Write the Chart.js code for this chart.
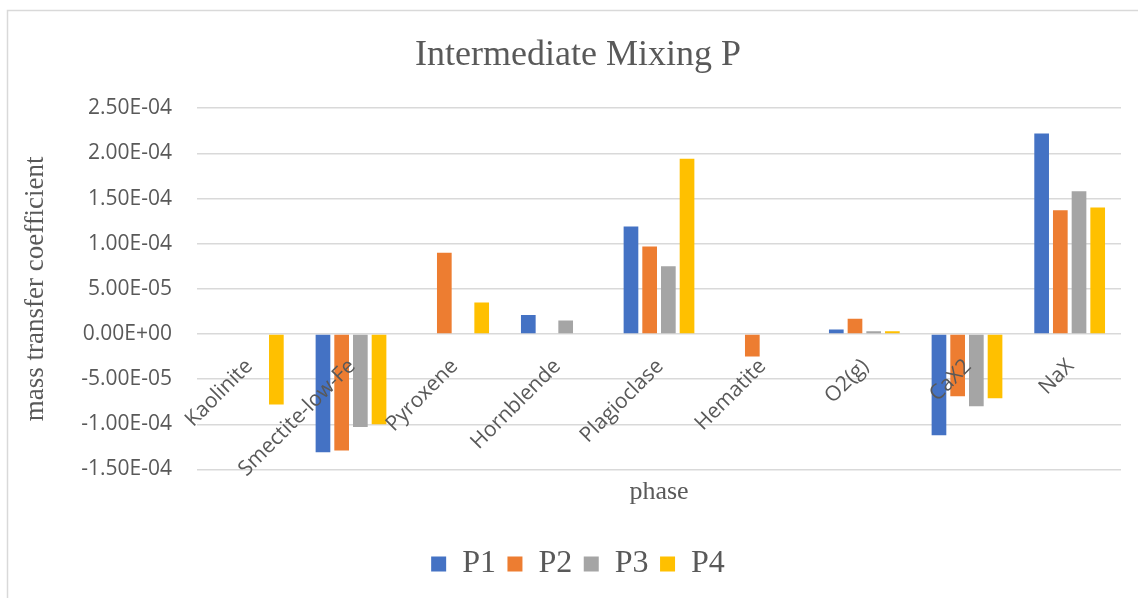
<!DOCTYPE html>
<html>
<head>
<meta charset="utf-8">
<script src="https://cdn.jsdelivr.net/npm/chart.js@4.4.1/dist/chart.umd.min.js"></script>
<style>
  html, body { margin: 0; padding: 0; overflow: hidden; background: #fff; }
  #wrap { width: 1149px; height: 610px; position: relative; }
</style>
</head>
<body>
<div id="wrap"><canvas id="chart"></canvas></div>
<script>
// phases on the x axis
const phases = ['Kaolinite', 'Smectite-low-Fe', 'Pyroxene', 'Hornblende', 'Plagioclase', 'Hematite', 'O2(g)', 'CaX2', 'NaX'];

// mass transfer coefficients per run (null = phase not present)
const p1 = [null, -1.31e-4, null, 2.1e-5, 1.19e-4, null, 5e-6, -1.12e-4, 2.22e-4];
const p2 = [null, -1.29e-4, 9.0e-5, null, 9.7e-5, -2.5e-5, 1.7e-5, -6.9e-5, 1.37e-4];
const p3 = [null, -1.03e-4, null, 1.5e-5, 7.5e-5, null, 3e-6, -8.0e-5, 1.58e-4];
const p4 = [-7.8e-5, -1.0e-4, 3.5e-5, null, 1.94e-4, null, 3e-6, -7.1e-5, 1.40e-4];

const yMin = -1.5e-4;
const yMax = 2.5e-4;
const yStep = 5e-5;

const GREY = '#595959';
const GRID = '#d9d9d9';
const SERIF = '"Liberation Serif", "Times New Roman", serif';
const SANS = '"Open Sans", sans-serif';

// Excel style scientific label, e.g. 1.50E-04
const sci = (v) => {
    if (Math.abs(v) < 1e-12) return '0.00E+00';
    const [m, e] = v.toExponential(2).split('e');
    const n = parseInt(e, 10);
    return `${m}E${n < 0 ? '-' : '+'}${String(Math.abs(n)).padStart(2, '0')}`;
};

// light frame round the whole chart
const frame = {
    id: 'frame',
    beforeDraw(chart) {
        const { ctx } = chart;
        ctx.save();
        ctx.strokeStyle = GRID;
        ctx.lineWidth = 1.5;
        ctx.strokeRect(7.5, 10.5, chart.width - 8, chart.height - 11);
        ctx.restore();
    }
};

// category names sit under the zero line, tilted 45 degrees
const phaseLabels = {
    id: 'phaseLabels',
    afterDatasetsDraw(chart) {
        const { ctx, scales: { x, y } } = chart;
        const y0 = y.getPixelForValue(0);
        ctx.save();
        ctx.font = `21px ${SANS}`;
        ctx.fillStyle = GREY;
        ctx.textAlign = 'right';
        ctx.textBaseline = 'middle';
        phases.forEach((name, i) => {
            ctx.save();
            ctx.translate(x.getPixelForValue(i) + 1, y0 + 29);
            ctx.rotate(-Math.PI / 4);
            ctx.fillText(name, 0, 0);
            ctx.restore();
        });
        ctx.restore();
    }
};

const series = [
    { label: 'P1', data: p1, color: '#4472C4' },
    { label: 'P2', data: p2, color: '#ED7D31' },
    { label: 'P3', data: p3, color: '#A5A5A5' },
    { label: 'P4', data: p4, color: '#FFC000' }
];

new Chart(document.getElementById('chart'), {
    type: 'bar',
    data: {
        labels: phases,
        datasets: series.map(s => ({
            label: s.label,
            data: s.data,
            backgroundColor: s.color,
            borderWidth: 0,
            categoryPercentage: 0.728,
            barPercentage: 0.786
        }))
    },
    options: {
        responsive: true,
        maintainAspectRatio: false,
        animation: false,
        layout: { padding: { left: 7, right: 0, top: 0, bottom: 20 } },
        plugins: {
            title: {
                display: true,
                text: 'Intermediate Mixing P',
                color: GREY,
                font: { family: SERIF, size: 36, weight: 'normal' },
                padding: { top: 34, bottom: 31 }
            },
            legend: {
                position: 'bottom',
                labels: {
                    color: GREY,
                    font: { family: SERIF, size: 32 },
                    boxWidth: 15,
                    boxHeight: 15,
                    padding: 11.5
                }
            },
            tooltip: { enabled: false }
        },
        scales: {
            x: {
                grid: { display: false },
                border: { display: false },
                ticks: { display: false },
                title: {
                    display: true,
                    text: 'phase',
                    color: GREY,
                    font: { family: SERIF, size: 26, lineHeight: 1 },
                    padding: { top: 2, bottom: 31 }
                }
            },
            y: {
                min: yMin,
                max: yMax,
                border: { display: false },
                grid: { color: GRID, lineWidth: 1.5, drawTicks: false },
                ticks: {
                    stepSize: yStep,
                    padding: 25,
                    color: GREY,
                    font: { family: SANS, size: 21 },
                    callback: (v) => sci(v)
                },
                title: {
                    display: true,
                    text: 'mass transfer coefficient',
                    color: GREY,
                    font: { family: SERIF, size: 27 },
                    padding: { top: 13, bottom: 0 }
                },
                afterFit: (scale) => { scale.width = 190; }
            },
            // empty right-hand strip so the plot stops short of the frame
            yRight: {
                position: 'right',
                display: true,
                grid: { display: false },
                border: { display: false },
                ticks: { display: false },
                afterFit: (scale) => { scale.width = 28; }
            }
        }
    },
    plugins: [frame, phaseLabels]
});
</script>
</body>
</html>
